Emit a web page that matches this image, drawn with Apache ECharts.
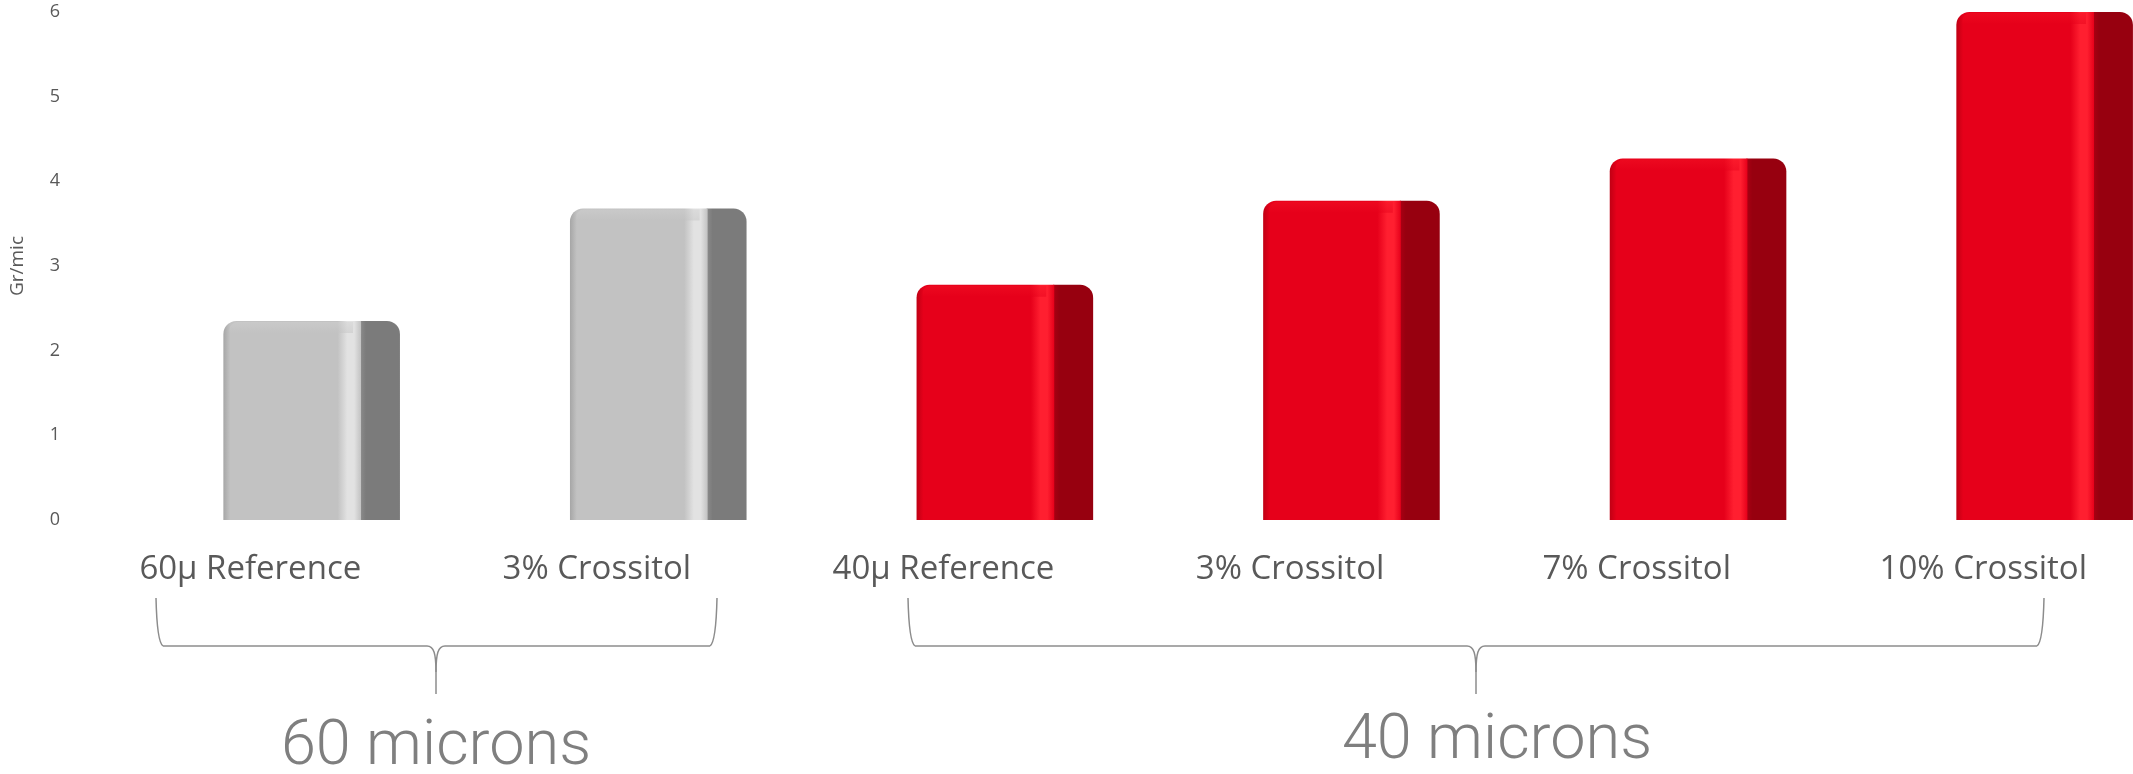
<!DOCTYPE html>
<html>
<head>
<meta charset="utf-8">
<script src="https://cdn.jsdelivr.net/npm/echarts@6/dist/echarts.min.js"></script>
<style>
html,body{margin:0;padding:0;background:#fff;}
#chart{width:2133px;height:774px;}
</style>
</head>
<body>
<div id="chart"></div>
<script>
// ---- data ----
const categories = ['60μ Reference', '3% Crossitol', '40μ Reference', '3% Crossitol', '7% Crossitol', '10% Crossitol'];
const values = [2.35, 3.68, 2.78, 3.77, 4.27, 6.0];
const groupOfBar = [0, 0, 1, 1, 1, 1];
const groupNames = ['60 microns', '40 microns'];
const yTicks = [0, 1, 2, 3, 4, 5, 6];
const yAxisTitle = 'Gr/mic';

// ---- styles ----
const palettes = [
  { edge: '#a6a6a6', front: '#c2c2c2', hi: '#e2e2e2', side: '#7b7b7b', sideHi: '#8c8c8c', topHi: '#d2d2d2' },
  { edge: '#c00014', front: '#e6001a', hi: '#ff1f30', side: '#97000f', sideHi: '#ab0013', topHi: '#f51426' }
];

function lin(x2, y2, stops) {
  return { type: 'linear', x: 0, y: 0, x2: x2, y2: y2, colorStops: stops };
}

const chart = echarts.init(document.getElementById('chart'), null, { renderer: 'canvas' });

function renderBar(params, api) {
  const i = api.value(0);
  const v = api.value(1);
  const g = api.value(2);
  const p = palettes[g];
  const topPt = api.coord([i, v]);
  const basePt = api.coord([i, 0]);
  const bw = api.size([1, 0])[0];
  const cx = topPt[0];
  const top = topPt[1];
  const base = basePt[1];
  const fl = cx - 0.0777 * bw;
  const sr = cx + 0.3195 * bw;
  const se = cx + 0.4318 * bw;
  const h = base - top;
  const r = 13;
  const frontGrad = lin(1, 0, [
    { offset: 0, color: p.edge },
    { offset: 0.05, color: p.front },
    { offset: 0.83, color: p.front },
    { offset: 0.9, color: p.hi },
    { offset: 0.95, color: p.hi },
    { offset: 1, color: p.front }
  ]);
  const sideGrad = lin(1, 0, [
    { offset: 0, color: p.sideHi },
    { offset: 0.15, color: p.side },
    { offset: 1, color: p.side }
  ]);
  const topGrad = lin(0, 1, [
    { offset: 0, color: p.topHi },
    { offset: 1, color: p.front }
  ]);
  return {
    type: 'group',
    children: [
      { type: 'rect', shape: { x: sr - 1, y: top, width: se - sr + 1, height: h, r: [0, r, 0, 0] }, style: { fill: sideGrad } },
      { type: 'rect', shape: { x: fl, y: top, width: sr - fl, height: h, r: [r, 0, 0, 0] }, style: { fill: frontGrad } },
      { type: 'rect', shape: { x: fl + 6, y: top + 1, width: sr - fl - 14, height: 11, r: [8, 0, 0, 0] }, style: { fill: topGrad, opacity: 0.45 } }
    ]
  };
}

const braceColor = '#8c8c8c';
const textColor = '#7f7f7f';

function braceElements(x0, x1, xt, yTop, yMid, yTip) {
  const st = { stroke: braceColor, lineWidth: 1.5, fill: null };
  const r = 7;
  return [
    { type: 'bezierCurve', shape: { x1: x0, y1: yTop, cpx1: x0 + 1, cpy1: yMid - 4, x2: x0 + r, y2: yMid }, style: st },
    { type: 'line', shape: { x1: x0 + r, y1: yMid, x2: xt - 9, y2: yMid }, style: st },
    { type: 'bezierCurve', shape: { x1: xt - 9, y1: yMid, cpx1: xt - 2, cpy1: yMid, cpx2: xt, cpy2: yMid + 8, x2: xt, y2: yMid + 26 }, style: st },
    { type: 'line', shape: { x1: xt, y1: yMid + 26, x2: xt, y2: yTip }, style: st },
    { type: 'bezierCurve', shape: { x1: xt + 9, y1: yMid, cpx1: xt + 2, cpy1: yMid, cpx2: xt, cpy2: yMid + 8, x2: xt, y2: yMid + 26 }, style: st },
    { type: 'line', shape: { x1: xt + 9, y1: yMid, x2: x1 - r, y2: yMid }, style: st },
    { type: 'bezierCurve', shape: { x1: x1, y1: yTop, cpx1: x1 - 1, cpy1: yMid - 4, x2: x1 - r, y2: yMid }, style: st }
  ];
}

const catIdx = categories.map((c, i) => i);

const option = {
  animation: false,
  backgroundColor: '#ffffff',
  grid: { left: 72.3, top: 12, right: 0, height: 508, containLabel: false },
  xAxis: {
    type: 'value',
    min: -0.5,
    max: 5.432,
    axisLine: { show: false },
    axisTick: { show: false },
    splitLine: { show: false },
    axisLabel: {
      color: '#595959', fontSize: 33, fontFamily: 'Open Sans', margin: 33,
      customValues: catIdx,
      formatter: (v) => categories[Math.round(v)]
    }
  },
  yAxis: {
    type: 'value',
    min: yTicks[0],
    max: yTicks[yTicks.length - 1],
    interval: 1,
    name: yAxisTitle,
    nameLocation: 'middle',
    nameRotate: 90,
    nameGap: 50,
    nameTextStyle: { color: '#595959', fontSize: 19, fontFamily: 'Open Sans' },
    axisLine: { show: false },
    axisTick: { show: false },
    splitLine: { show: false },
    axisLabel: { color: '#595959', fontSize: 18, fontFamily: 'Open Sans', margin: 17 }
  },
  series: [{
    type: 'custom',
    renderItem: renderBar,
    encode: { x: 0, y: 1 },
    data: values.map((v, i) => [i, v, groupOfBar[i]]),
    clip: false
  }],
  graphic: [].concat(
    braceElements(156, 717, 436, 598, 646, 694),
    braceElements(908, 2044, 1476, 598, 646, 694),
    [
      { type: 'text', x: 436, y: 748, style: { text: groupNames[0], fill: textColor, fontSize: 63, fontFamily: 'Roboto', fontWeight: 300, align: 'center', verticalAlign: 'middle' } },
      { type: 'text', x: 1497, y: 742, style: { text: groupNames[1], fill: textColor, fontSize: 63, fontFamily: 'Roboto', fontWeight: 300, align: 'center', verticalAlign: 'middle' } }
    ]
  )
};
chart.setOption(option);
</script>
</body>
</html>
